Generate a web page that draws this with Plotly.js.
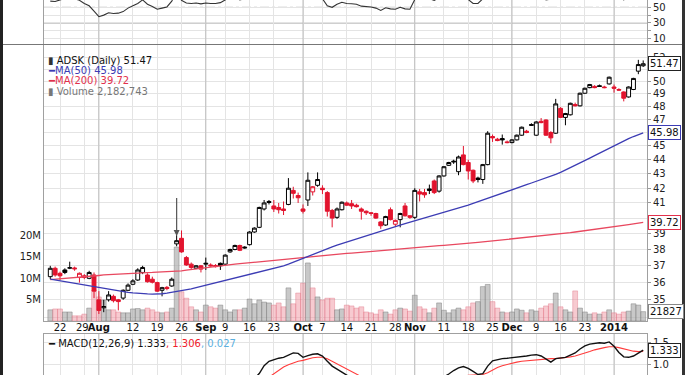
<!DOCTYPE html>
<html><head><meta charset="utf-8">
<script src="https://cdn.plot.ly/plotly-3.0.1.min.js"></script>
<style>html,body{margin:0;padding:0;background:#fff;overflow:hidden}#chart{width:685px;height:375px}</style>
</head><body><div id="chart"></div>
<script>
// ---- categories: trading days Jul 18 2013 .. Jan 10 2014 ----
const firstDay = '2013-07-18', lastDay = '2014-01-10';
const holidays = ['2013-09-02','2013-11-28','2013-12-25','2014-01-01'];
function tradingDays(a, b, skip){
  const out=[]; let t=Date.parse(a+'T00:00:00Z'); const e=Date.parse(b+'T00:00:00Z');
  while(t<=e){ const d=new Date(t); const wd=d.getUTCDay(); const s=d.toISOString().slice(0,10);
    if(wd!==0 && wd!==6 && skip.indexOf(s)<0) out.push(s); t+=86400000; }
  return out;
}
const dates = tradingDays(firstDay, lastDay, holidays);

// ---- price series (ADSK daily) ----
const open = [36.35,36.85,36.55,36.75,36.86,36.87,36.3,36.4,36.25,36.45,
35.0,34.55,35.0,35.2,35.0,35.1,35.55,35.9,36.15,36.6,
36.45,36.2,36.0,35.55,35.72,35.8,38.35,38.7,37.5,37.1,
36.85,37.0,37.1,37.05,37.02,37.15,37.1,37.85,38.0,38.25,
38.15,38.3,39.1,39.4,40.6,41.1,40.8,40.7,40.6,40.9,
41.85,41.5,40.6,41.2,41.75,42.2,42.0,41.7,40.5,40.05,
40.55,41.0,40.95,40.85,40.6,40.45,40.35,40.3,39.75,39.55,
40.55,39.6,39.9,40.8,40.15,40.05,41.75,41.7,41.95,42.5,
41.8,42.85,43.6,43.9,43.15,44.35,43.8,43.25,42.7,42.6,
43.65,45.7,45.5,45.55,45.3,45.25,45.45,45.8,46.1,46.6,
45.8,46.85,46.95,46.0,45.95,47.85,47.15,47.35,48.15,48.05,
49.05,49.5,49.6,49.65,49.55,49.8,49.55,49.35,49.15,48.75,
49.35,50.85,51.3];
const high = [37.0,36.95,36.65,36.85,37.25,36.95,36.6,36.5,36.7,36.6,
35.5,35.0,35.5,35.3,35.05,35.6,35.95,36.2,36.85,37.0,
36.55,36.35,36.05,35.75,35.8,36.3,38.9,39.2,37.6,37.2,
37.05,37.05,37.5,37.15,37.1,37.2,37.7,38.05,38.3,38.3,
38.2,39.15,39.4,40.75,41.2,41.2,41.2,41.0,41.1,42.7,
42.1,41.7,40.9,43.1,42.15,43.1,42.2,41.8,40.6,40.7,
41.1,41.1,41.2,40.95,40.7,40.5,40.4,40.35,39.8,40.15,
40.7,39.9,40.35,41.0,40.2,42.0,41.95,41.95,42.25,42.6,
42.9,43.55,43.85,44.0,44.3,45.0,44.0,43.3,42.8,43.7,
46.1,45.85,45.6,45.85,45.4,45.5,45.85,46.45,46.2,46.7,
46.85,47.1,47.0,46.1,48.6,47.95,47.5,48.3,48.3,49.1,
49.5,49.8,49.7,49.75,49.65,50.4,49.75,49.45,49.2,49.6,
50.3,51.8,51.75];
const low = [36.2,36.35,36.15,36.5,36.8,36.7,36.0,36.2,36.2,35.1,
34.2,34.3,34.9,34.85,34.4,35.0,35.5,35.85,36.1,36.5,
36.0,35.95,35.45,35.2,35.55,35.75,38.2,37.8,37.0,36.8,
36.8,36.6,36.75,36.95,36.9,36.75,37.05,37.8,37.95,37.9,
38.05,38.25,39.05,39.35,40.5,40.9,40.4,40.3,40.2,40.85,
41.3,41.0,40.3,40.8,41.5,42.1,41.6,40.1,39.4,39.95,
40.5,40.8,40.6,40.7,39.9,40.2,40.15,39.95,39.3,39.5,
39.85,39.45,39.4,40.1,39.95,39.95,41.1,41.35,41.6,41.6,
41.7,42.8,43.55,43.7,42.9,43.6,42.6,42.35,42.4,42.3,
43.6,45.3,45.35,45.1,45.2,45.2,45.4,45.75,45.95,46.5,
45.75,46.7,45.75,45.2,45.9,47.1,46.55,47.3,48.0,48.0,
49.0,49.45,49.45,49.55,49.45,49.75,49.1,49.25,48.4,48.7,
49.3,50.6,51.2];
const close = [36.85,36.45,36.4,36.6,36.88,36.82,36.55,36.3,36.6,35.5,
34.4,34.62,35.28,34.95,34.9,35.55,35.85,36.1,36.75,36.9,
36.05,36.02,35.5,35.7,35.65,36.2,38.55,37.85,37.05,36.9,
37.0,36.8,37.15,37.0,36.95,37.0,37.65,38.0,38.25,37.95,
38.1,39.1,39.35,40.7,41.0,41.03,40.6,40.55,40.5,42.0,
41.65,41.35,40.45,42.55,42.1,42.6,41.9,40.45,40.0,40.6,
41.05,40.85,40.8,40.75,40.45,40.35,40.3,40.0,39.5,40.1,
39.9,39.85,40.3,40.15,40.05,41.85,41.6,41.55,41.85,41.7,
42.85,43.5,43.8,43.85,44.2,43.65,43.2,42.5,42.6,43.65,
45.95,45.6,45.4,45.45,45.25,45.45,45.8,46.4,46.0,46.55,
46.8,46.75,45.8,45.6,48.2,47.15,47.45,48.25,48.05,49.05,
49.45,49.75,49.5,49.6,49.5,50.35,49.45,49.3,48.65,49.55,
50.25,51.4,51.47];
// volume in millions of shares
const volumeM = [2.6,2.8,2.8,2.1,2.1,1.2,1.2,1.6,3.0,7.2,
5.6,4.9,2.6,2.6,2.1,1.9,1.9,2.8,2.9,2.6,
3.0,2.6,2.1,1.9,2.1,3.0,17.2,6.8,5.3,3.3,
2.6,2.1,3.7,3.3,3.0,3.7,2.6,2.1,2.6,2.6,
3.0,5.1,4.0,4.9,4.4,4.2,3.7,4.2,3.3,7.7,
4.0,6.5,8.8,13.5,7.7,5.6,4.9,5.3,5.3,2.6,
2.8,3.7,3.5,3.0,3.3,2.1,1.9,1.6,2.6,2.1,
1.6,2.6,3.0,2.8,2.3,6.0,3.3,2.8,1.9,3.0,
4.2,2.5,1.9,2.6,3.0,2.6,3.3,4.2,4.5,8.0,
8.5,4.5,3.0,2.1,1.9,2.1,2.8,2.5,1.9,2.6,
2.3,3.0,3.5,4.0,6.5,3.3,2.6,2.1,7.0,3.0,
2.1,1.6,1.9,1.6,2.1,2.6,1.9,1.6,2.1,2.3,
4.0,3.7,2.18];
const ma50 = [36.21,36.16,36.11,36.06,36.01,35.95,35.9,35.85,35.79,35.74,
35.69,35.64,35.59,35.54,35.5,35.46,35.43,35.4,35.37,35.35,
35.34,35.33,35.33,35.35,35.38,35.43,35.47,35.5,35.57,35.63,
35.7,35.77,35.84,35.92,35.99,36.06,36.13,36.2,36.27,36.34,
36.41,36.48,36.55,36.62,36.69,36.77,36.84,36.91,37.0,37.1,
37.22,37.35,37.47,37.59,37.71,37.83,37.94,38.05,38.16,38.27,
38.37,38.47,38.57,38.67,38.77,38.87,38.97,39.07,39.17,39.27,
39.37,39.46,39.55,39.64,39.73,39.82,39.91,40.0,40.09,40.18,
40.27,40.36,40.45,40.55,40.65,40.75,40.86,40.97,41.08,41.19,
41.3,41.41,41.52,41.63,41.74,41.9,42.01,42.12,42.24,42.36,
42.47,42.58,42.7,42.83,42.96,43.1,43.26,43.42,43.59,43.76,
43.94,44.12,44.3,44.48,44.66,44.85,45.03,45.2,45.37,45.54,
45.7,45.85,45.98];
const ma200 = [36.18,36.2,36.22,36.25,36.27,36.3,36.32,36.35,36.37,36.4,
36.42,36.45,36.47,36.49,36.5,36.52,36.53,36.55,36.56,36.57,
36.59,36.6,36.61,36.62,36.63,36.64,36.65,36.7,36.74,36.78,
36.82,36.86,36.9,36.94,36.98,37.01,37.04,37.07,37.1,37.13,
37.16,37.19,37.22,37.25,37.27,37.3,37.33,37.36,37.39,37.42,
37.45,37.48,37.51,37.54,37.57,37.6,37.63,37.66,37.68,37.71,
37.73,37.76,37.78,37.8,37.82,37.84,37.86,37.89,37.92,37.95,
37.98,38.01,38.04,38.07,38.1,38.13,38.16,38.18,38.2,38.22,
38.24,38.26,38.28,38.3,38.32,38.35,38.38,38.41,38.44,38.47,
38.5,38.53,38.56,38.59,38.62,38.65,38.68,38.71,38.74,38.77,
38.8,38.83,38.86,38.9,38.94,38.98,39.02,39.06,39.1,39.14,
39.18,39.22,39.26,39.3,39.34,39.39,39.44,39.49,39.54,39.58,
39.63,39.68,39.72];
const rsi14 = [58,57.5,59.5,61,63,61,59,55,52,45,
38,40,43,42,42.5,44.5,49,52,55,59.5,
54,51,47.5,49,50.5,58,70,59,55.5,55,
55.5,54.5,55.5,55,55,56,60,63,64,59.5,
61,66,68,74,76,76,72,71,70,74,
71,68,61,67,68,69,61,52,50,54,
56.5,55,54.5,54,51.5,51,50.5,49,46,49.5,
48,47.5,50,48,47.5,60,60.5,60.5,61,59,
63,65,66,66,68,63,60,55,55,61,
70,69,68,68,67,68,69,71,70,71,
71,70,59.5,60.5,68,63,64,66,65,69,
71,72,71,71.5,70.5,73,65,63,59.5,64,
68,74,74];
const macdLine = [0.16,0.15,0.13,0.13,0.14,0.14,0.11,0.08,0.07,-0.02,
-0.14,-0.22,-0.25,-0.29,-0.32,-0.3,-0.27,-0.22,-0.15,-0.08,
-0.06,-0.05,-0.08,-0.09,-0.1,-0.06,0.12,0.22,0.27,0.29,
0.31,0.31,0.33,0.34,0.34,0.35,0.39,0.45,0.5,0.52,
0.55,0.62,0.69,0.8,0.98,1.08,1.12,1.15,1.17,1.22,
1.27,1.26,1.17,1.21,1.24,1.25,1.2,1.08,0.97,0.9,
0.82,0.74,0.68,0.63,0.58,0.53,0.48,0.43,0.36,0.34,
0.3,0.26,0.26,0.27,0.26,0.38,0.47,0.53,0.58,0.6,
0.66,0.72,0.79,0.87,0.93,0.96,0.92,0.85,0.78,0.8,
0.97,1.09,1.12,1.14,1.15,1.16,1.17,1.18,1.2,1.22,
1.23,1.2,1.12,1.06,1.14,1.16,1.17,1.22,1.27,1.36,
1.43,1.47,1.49,1.5,1.49,1.52,1.42,1.28,1.18,1.17,
1.2,1.27,1.333];
const macdSignal = [0.2,0.19,0.18,0.17,0.17,0.16,0.15,0.14,0.13,0.11,
0.06,0.0,-0.05,-0.1,-0.14,-0.17,-0.19,-0.2,-0.19,-0.17,
-0.15,-0.13,-0.12,-0.11,-0.11,-0.1,-0.05,0.0,0.06,0.1,
0.14,0.17,0.2,0.23,0.25,0.27,0.3,0.33,0.36,0.39,
0.42,0.46,0.5,0.56,0.64,0.72,0.8,0.88,0.95,1.0,
1.04,1.08,1.1,1.13,1.16,1.17,1.17,1.14,1.08,1.02,
0.96,0.89,0.83,0.78,0.73,0.69,0.65,0.61,0.57,0.53,
0.49,0.45,0.41,0.38,0.36,0.36,0.38,0.42,0.46,0.5,
0.54,0.58,0.62,0.67,0.71,0.74,0.76,0.77,0.77,0.78,
0.82,0.88,0.94,0.98,1.01,1.04,1.06,1.08,1.09,1.11,
1.12,1.13,1.14,1.14,1.14,1.15,1.16,1.18,1.2,1.23,
1.27,1.3,1.34,1.37,1.39,1.41,1.41,1.39,1.36,1.33,
1.31,1.3,1.306];

// ---- axis ticks ----
const tickDates = ['2013-07-22','2013-07-29','2013-08-01','2013-08-12','2013-08-19','2013-08-26','2013-09-03','2013-09-09','2013-09-16','2013-09-23','2013-10-01','2013-10-07','2013-10-14','2013-10-21','2013-10-28','2013-11-01','2013-11-11','2013-11-18','2013-11-25','2013-12-02','2013-12-09','2013-12-16','2013-12-23','2014-01-02'];
// "29" is drawn as a separate label nudged left so it sits flush against "Aug"
const tickLabels = ['22','','<b>Aug</b>','12','19','26','<b>Sep</b>','9','16','23','<b>Oct</b>','7','14','21','28','<b>Nov</b>','11','18','25','<b>Dec</b>','9','16','23','<b>2014</b>'];
const nudgedLabel = '29';
const monthStarts = ['2013-08-01','2013-09-03','2013-10-01','2013-11-01','2013-12-02','2014-01-02'];
const priceTicks = [34,35,36,37,38,39,40,41,42,43,44,45,46,47,48,49,50,51,52];
// labels hidden behind the last-value boxes in the reference are left blank
const priceTickText = ['','35','36','37','38','39','','41','42','43','44','45','','47','48','49','50','','52'];
const volTicks = [5,10,15,20];
const volTickText = ['5M','10M','15M','20M'];
const rsiTicks = [10,20,30,40,50];
const rsiTickText = ['10','','30','','50'];
const macdTicks = [0.5,1.0,1.5];
const macdTickText = ['0.5','1.0','1.5'];
const arrowDate = '2013-08-23';

// ---- geometry helpers (pixel -> paper) ----
const W=685,H=375,PL=44,PR=647;
const fx = p => (p-PL)/(PR-PL);
const fy = p => (H-p)/H;
const FONT = 'DejaVu Sans';

const up = close.map((c,k)=> k===0 ? c>=open[k] : c>=close[k-1]);
const sel = (arr, f) => arr.filter((_,k)=>up[k]===f);

const BLK='#000000', RED='#e2142e';
const traces = [
  {type:'bar', x:dates, y:volumeM, xaxis:'x', yaxis:'y',
   marker:{color:up.map(u=>u?'rgba(170,170,170,0.65)':'rgba(240,150,162,0.5)'),
           line:{color:up.map(u=>u?'rgba(120,120,120,0.75)':'rgba(225,110,128,0.65)'),width:0.6}},
   hoverinfo:'skip', showlegend:false},
  {type:'scatter', mode:'lines', x:dates, y:ma200, xaxis:'x', yaxis:'y2',
   line:{color:'#e8485f',width:1.3}, hoverinfo:'skip', showlegend:false},
  {type:'scatter', mode:'lines', x:dates, y:ma50, xaxis:'x', yaxis:'y2',
   line:{color:'#3c3cb4',width:1.3}, hoverinfo:'skip', showlegend:false},
  {type:'candlestick', x:sel(dates,true), open:sel(open,true), high:sel(high,true), low:sel(low,true), close:sel(close,true),
   xaxis:'x', yaxis:'y2', whiskerwidth:0,
   increasing:{line:{color:BLK,width:1}, fillcolor:'#ffffff'},
   decreasing:{line:{color:BLK,width:1}, fillcolor:BLK}, hoverinfo:'skip', showlegend:false},
  {type:'candlestick', x:sel(dates,false), open:sel(open,false), high:sel(high,false), low:sel(low,false), close:sel(close,false),
   xaxis:'x', yaxis:'y2', whiskerwidth:0,
   increasing:{line:{color:RED,width:1}, fillcolor:'#ffffff'},
   decreasing:{line:{color:RED,width:1}, fillcolor:RED}, hoverinfo:'skip', showlegend:false},
  {type:'scatter', mode:'lines', x:dates, y:rsi14, xaxis:'x', yaxis:'y3',
   line:{color:'#333',width:1.1}, hoverinfo:'skip', showlegend:false},
  {type:'scatter', mode:'lines', x:dates, y:macdSignal, xaxis:'x', yaxis:'y4',
   line:{color:'#ff3b3b',width:1.1}, hoverinfo:'skip', showlegend:false},
  {type:'scatter', mode:'lines', x:dates, y:macdLine, xaxis:'x', yaxis:'y4',
   line:{color:'#111',width:1.4}, hoverinfo:'skip', showlegend:false}
];

const pxPerDay = 4.86, firstX = 60 - 2*4.86; // pixel of first category
const xRange = [(PL-firstX)/pxPerDay, (PR-firstX)/pxPerDay];

const gridC = '#e4e4e4', lineC = '#a0a0a0', tf = {family:FONT,size:10,color:'#222'};
const yMain = [fy(321), fy(45)], yRsi = [fy(44), 1], yMacd = [0, fy(334)];

const shapes = [];
monthStarts.forEach(d=>{
  const k = dates.indexOf(d);
  [['y',0,64.2],['y3',2.95,59.4],['y4',0.768,1.70]].forEach(([yr,a,b])=>{
    shapes.push({type:'line', xref:'x', yref:yr, x0:k, x1:k, y0:a, y1:b, layer:'between', line:{color:'#bcbcbc',width:1}});
  });
});
shapes.push({type:'line', xref:'paper', yref:'y3', x0:0, x1:1, y0:50, y1:50, layer:'between', line:{color:'#999',width:1,dash:'dashdot'}});
shapes.push({type:'line', xref:'paper', yref:'y3', x0:0, x1:1, y0:30, y1:30, layer:'between', line:{color:'#8a8a8a',width:1}});
shapes.push({type:'line', xref:'paper', yref:'paper', x0:fx(0), x1:fx(685), y0:fy(44.5), y1:fy(44.5), line:{color:'#777',width:1.2}});
shapes.push({type:'line', xref:'paper', yref:'paper', x0:fx(1.5), x1:fx(1.5), y0:0, y1:1, line:{color:'#222',width:3}});
shapes.push({type:'line', xref:'paper', yref:'paper', x0:fx(683.5), x1:fx(683.5), y0:0, y1:1, line:{color:'#333',width:3}});

const ann = (t, x, y, color) => ({text:t, xref:'paper', yref:'paper', x:fx(x), y:fy(y), xanchor:'left', yanchor:'middle',
  showarrow:false, font:{family:FONT,size:10,color:color}});
const box = (t, yref, y, bc) => ({text:t, xref:'paper', yref:yref, x:1, y:y, xanchor:'left', yanchor:'middle', xshift:1,
  showarrow:false, bgcolor:'#fff', bordercolor:bc, borderwidth:1, borderpad:1, font:{family:FONT,size:10,color:'#111'}});

const annotations = [
  ann('<span style="color:#333">▮</span> ADSK (Daily) 51.47', 46, 60, '#111'),
  ann('━MA(50) 45.98', 46, 70.5, '#3c3cb4'),
  ann('━MA(200) 39.72', 46, 81, '#e2304c'),
  ann('▮ Volume 2,182,743', 46, 92, '#777'),
  ann('━ MACD(12,26,9) 1.333<span style="color:#f0202a">, 1.306</span><span style="color:#5ab0e0">, 0.027</span>', 46, 343, '#111'),
  {text:nudgedLabel, xref:'paper', yref:'paper', x:fx(82), y:fy(327), xanchor:'center', yanchor:'middle',
   showarrow:false, font:{family:FONT,size:10,color:'#111'}},
  box('51.47','y2',Math.log10(51.47),'#222'),
  box('45.98','y2',Math.log10(45.98),'#3c3cb4'),
  box('39.72','y2',Math.log10(39.72),'#e2304c'),
  box('21827','y',2.18,'#888'),
  box('1.333','y4',1.333,'#222'),
  {text:' ', xref:'x', yref:'y2', x:dates.indexOf(arrowDate), y:Math.log10(38.84), showarrow:true,
   arrowhead:2, arrowsize:1, arrowwidth:1.2, arrowcolor:'#555', ax:0, ay:-45}
];

const layout = {
  width:W, height:H, margin:{l:PL,r:W-PR,t:0,b:0,pad:0},
  paper_bgcolor:'#fff', plot_bgcolor:'#fff', showlegend:false, hovermode:false,
  bargap:0, boxgap:0.2, boxgroupgap:0,
  font:{family:FONT,size:10,color:'#222'},
  xaxis:{type:'category', categoryorder:'array', categoryarray:dates, range:xRange, autorange:false,
    tickmode:'array', tickvals:tickDates, ticktext:tickLabels, tickangle:0, ticklabelstandoff:-3,
    tickfont:{family:FONT,size:10,color:'#111'},
    showgrid:true, gridcolor:gridC, gridwidth:1, ticks:'', showline:true, linecolor:lineC, mirror:'all',
    anchor:'y', rangeslider:{visible:false}, zeroline:false, fixedrange:true},
  yaxis:{domain:yMain, range:[0,64.2], side:'left', tickmode:'array', tickvals:volTicks, ticktext:volTickText,
    showgrid:false, zeroline:false, ticks:'', tickfont:tf, showline:true, linecolor:lineC, anchor:'x', fixedrange:true},
  yaxis2:{overlaying:'y', side:'right', type:'log', range:[Math.log10(33.81), Math.log10(53.07)], autorange:false,
    tickmode:'array', tickvals:priceTicks, ticktext:priceTickText, showgrid:true, gridcolor:gridC,
    ticks:'outside', ticklen:3, tickcolor:'#999', tickfont:tf, showline:true, linecolor:lineC, anchor:'x', zeroline:false},
  yaxis3:{domain:yRsi, range:[2.95,59.4], side:'right', tickmode:'array', tickvals:rsiTicks, ticktext:rsiTickText,
    showgrid:true, gridcolor:gridC, ticks:'outside', ticklen:3, tickcolor:'#999', tickfont:tf,
    showline:true, linecolor:lineC, mirror:true, anchor:'x', zeroline:false},
  yaxis4:{domain:yMacd, range:[0.768,1.70], side:'right', tickmode:'array', tickvals:macdTicks, ticktext:macdTickText,
    showgrid:true, gridcolor:gridC, ticks:'outside', ticklen:3, tickcolor:'#999', tickfont:tf,
    showline:true, linecolor:lineC, mirror:true, anchor:'x', zeroline:false},
  shapes:shapes, annotations:annotations
};
Plotly.newPlot('chart', traces, layout, {staticPlot:true, displayModeBar:false});
</script></body></html>
